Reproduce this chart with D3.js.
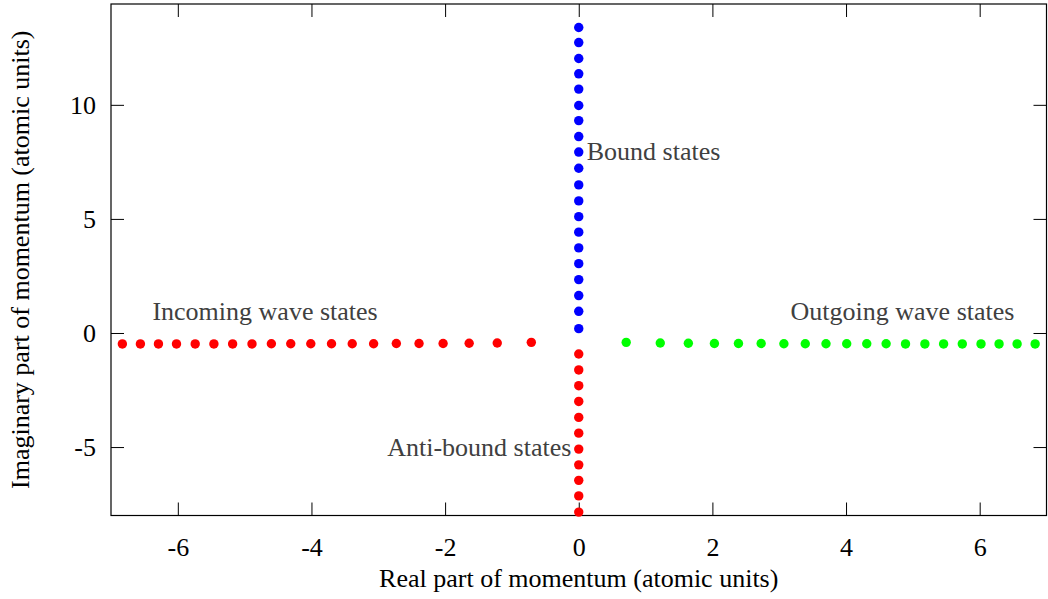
<!DOCTYPE html>
<html>
<head>
<meta charset="utf-8">
<script src="https://cdn.jsdelivr.net/npm/d3@7/dist/d3.min.js"></script>
<style>
  html, body { margin: 0; padding: 0; background: #fff; }
  svg { display: block; }
  text { font-family: "Liberation Serif", "Times New Roman", serif; }
</style>
</head>
<body>
<svg id="chart" width="1048" height="599"></svg>
<script>
// Momentum-plane states: real and imaginary parts (atomic units)
const boundRe = [0,0,0,0,0,0,0,0,0,0,0,0,0,0,0,0,0,0,0,0];
const boundIm = [13.39,12.73,12.03,11.36,10.69,9.97,9.31,8.61,7.93,7.22,6.49,5.79,5.10,4.42,3.73,3.04,2.34,1.64,0.95,0.19];

const antiRe = [0,0,0,0,0,0,0,0,0,0,0];
const antiIm = [-0.92,-1.62,-2.31,-3.00,-3.70,-4.39,-5.09,-5.78,-6.46,-7.14,-7.85];

const incomingRe = [-6.83,-6.56,-6.29,-6.02,-5.74,-5.46,-5.18,-4.89,-4.60,-4.31,-4.01,-3.70,-3.39,-3.07,-2.73,-2.39,-2.03,-1.64,-1.22,-0.71];
const incomingIm = [-0.48,-0.48,-0.48,-0.48,-0.48,-0.48,-0.48,-0.48,-0.47,-0.47,-0.47,-0.47,-0.47,-0.47,-0.46,-0.46,-0.46,-0.45,-0.44,-0.41];

const outgoingRe = [0.71,1.22,1.64,2.03,2.39,2.73,3.07,3.39,3.70,4.01,4.31,4.60,4.89,5.18,5.46,5.74,6.02,6.29,6.56,6.83];
const outgoingIm = [-0.41,-0.44,-0.45,-0.46,-0.46,-0.46,-0.47,-0.47,-0.47,-0.47,-0.47,-0.47,-0.48,-0.48,-0.48,-0.48,-0.48,-0.48,-0.48,-0.48];

const xTicks = [-6,-4,-2,0,2,4,6];
const yTicks = [-5,0,5,10];

const labelText = ["Bound states","Incoming wave states","Outgoing wave states","Anti-bound states"];
const labelX = [0.12,-6.38,6.52,-0.11];
const labelY = [7.6,0.59,0.58,-5.4];
const labelAnchor = ["start","start","end","end"];

const seriesColors = ["#0000ff","#ff0000","#ff0000","#00ff00"];

// ---- layout ----
const plotL = 111, plotR = 1046.5, plotT = 4, plotB = 515.5;
const tickLen = 13;

const x = d3.scaleLinear().domain([-7, 7]).range([plotL, plotR]);
const y = d3.scaleLinear().domain([-8, 14.42]).range([plotB, plotT]);

const svg = d3.select("#chart");

// Frame
svg.append("rect")
  .attr("x", plotL).attr("y", plotT)
  .attr("width", plotR - plotL).attr("height", plotB - plotT)
  .attr("fill", "none").attr("stroke", "#000").attr("stroke-width", 1.2);

// Axes with inward ticks, mirrored on top/right
const axB = d3.axisBottom(x).tickValues(xTicks).tickSizeInner(-tickLen).tickSizeOuter(0).tickPadding(22).tickFormat(d3.format("d"));
const axT = d3.axisTop(x).tickValues(xTicks).tickSizeInner(-tickLen).tickSizeOuter(0).tickFormat("");
const axL = d3.axisLeft(y).tickValues(yTicks).tickSizeInner(-tickLen).tickSizeOuter(0).tickPadding(15).tickFormat(d3.format("d"));
const axR = d3.axisRight(y).tickValues(yTicks).tickSizeInner(-tickLen).tickSizeOuter(0).tickFormat("");

function style(g) {
  g.select(".domain").remove();
  g.selectAll(".tick line").attr("stroke", "#000").attr("stroke-width", 1);
  g.selectAll(".tick text")
    .attr("fill", "#000")
    .style("font-family", "'Liberation Serif', serif")
    .style("font-size", "26px")
    .text(function() { return this.textContent.replace("\u2212", "-"); });
}

svg.append("g").attr("transform", `translate(0,${plotB})`).call(axB).call(style);
svg.append("g").attr("transform", `translate(0,${plotT})`).call(axT).call(style);
svg.append("g").attr("transform", `translate(${plotL},0)`).call(axL).call(style);
svg.append("g").attr("transform", `translate(${plotR},0)`).call(axR).call(style);

// Axis titles
svg.append("text")
  .attr("x", (plotL + plotR) / 2).attr("y", 587)
  .attr("text-anchor", "middle")
  .style("font-size", "26px").attr("fill", "#000")
  .text("Real part of momentum (atomic units)");

svg.append("text")
  .attr("transform", `translate(29,${(plotT + plotB) / 2}) rotate(-90)`)
  .attr("text-anchor", "middle")
  .style("font-size", "26px").attr("fill", "#000")
  .text("Imaginary part of momentum (atomic units)");

// Annotations
svg.append("g").selectAll("text")
  .data(labelText)
  .join("text")
  .attr("x", (d, i) => x(labelX[i]))
  .attr("y", (d, i) => y(labelY[i]))
  .attr("text-anchor", (d, i) => labelAnchor[i])
  .style("font-size", "26px")
  .attr("fill", "#404040")
  .text(d => d);

// Points
const series = [
  [boundRe, boundIm],
  [antiRe, antiIm],
  [incomingRe, incomingIm],
  [outgoingRe, outgoingIm]
];

series.forEach(([re, im], s) => {
  svg.append("g").selectAll("circle")
    .data(re.map((r, i) => [r, im[i]]))
    .join("circle")
    .attr("cx", d => x(d[0]))
    .attr("cy", d => y(d[1]))
    .attr("r", 4.7)
    .attr("fill", seriesColors[s]);
});
</script>
</body>
</html>
